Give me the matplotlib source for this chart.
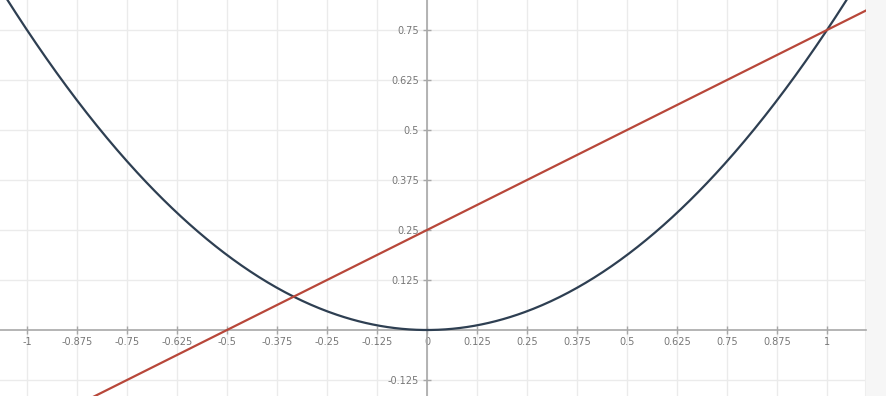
import numpy as np
import matplotlib
matplotlib.use("Agg")
import matplotlib.pyplot as plt

# curves: y = a*x^2 and y = m*x + b
parab_a = 0.75
line_m = 0.5
line_b = 0.25

x_ticks = [-1, -0.875, -0.75, -0.625, -0.5, -0.375, -0.25, -0.125, 0,
           0.125, 0.25, 0.375, 0.5, 0.625, 0.75, 0.875, 1]
x_labels = ["-1", "-0.875", "-0.75", "-0.625", "-0.5", "-0.375", "-0.25", "-0.125", "0",
            "0.125", "0.25", "0.375", "0.5", "0.625", "0.75", "0.875", "1"]
y_ticks = [-0.125, 0.125, 0.25, 0.375, 0.5, 0.625, 0.75]
y_labels = ["-0.125", "0.125", "0.25", "0.375", "0.5", "0.625", "0.75"]

xlim = (-1.0675, 1.0975)
ylim = (-0.165, 0.825)

fig = plt.figure(figsize=(8.86, 3.96), dpi=100, facecolor="#f6f6f6")
ax = fig.add_axes([0, 0, 866 / 886, 1])
ax.set_facecolor("white")

xs = np.linspace(xlim[0], xlim[1], 600)
ax.plot(xs, parab_a * xs ** 2, color="#2e3f52", lw=1.6, zorder=3)
ax.plot(xs, line_m * xs + line_b, color="#b8473a", lw=1.6, zorder=3)

ax.set_xlim(*xlim)
ax.set_ylim(*ylim)

ax.set_xticks(x_ticks)
ax.set_xticklabels(x_labels)
ax.set_yticks(y_ticks)
ax.set_yticklabels(y_labels)
ax.grid(True, color="#ebebeb", lw=1, zorder=0)

for s in ["top", "right"]:
    ax.spines[s].set_visible(False)
ax.spines["left"].set_position(("data", 0))
ax.spines["bottom"].set_position(("data", 0))
for s in ["left", "bottom"]:
    ax.spines[s].set_color("#a8a8a8")
    ax.spines[s].set_linewidth(1.2)
    ax.spines[s].set_zorder(2)

ax.tick_params(axis="both", direction="inout", length=6, width=1, color="#a8a8a8",
               labelcolor="#777777", labelsize=7)
ax.tick_params(axis="x", pad=2)
ax.tick_params(axis="y", pad=3)
ax.axvline(xlim[1], color="#eeeeee", lw=1.5)

fig.savefig("out.png", dpi=100, facecolor=fig.get_facecolor())
